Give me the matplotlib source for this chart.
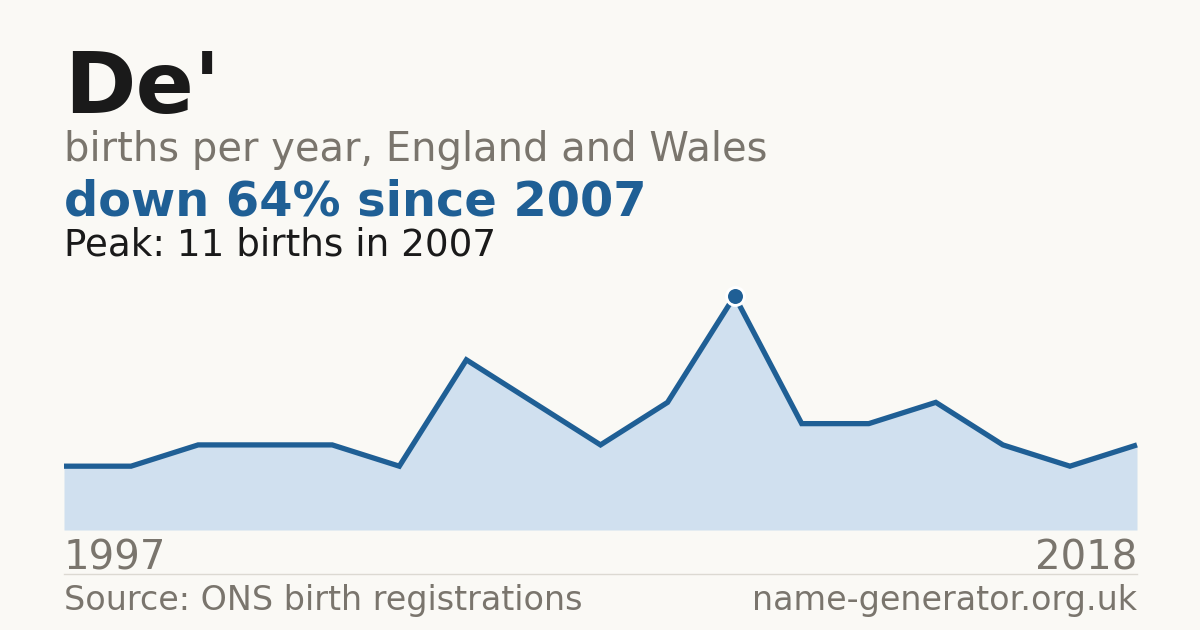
import matplotlib
matplotlib.use('Agg')
import matplotlib.pyplot as plt
import numpy as np

# Chart data (births per year)
births = [3, 3, 4, 4, 4, 3, 8, 6, 4, 6, 11, 5, 5, 6, 4, 3, 4]
first_year = '1997'
last_year = '2018'
peak_births = 11
peak_year = 2007
peak_index = births.index(peak_births)

title = "De'"
subtitle = 'births per year, England and Wales'
headline = 'down 64% since 2007'
peak_text = 'Peak: 11 births in 2007'
source = 'Source: ONS birth registrations'
site = 'name-generator.org.uk'

BG = '#faf9f5'
BLUE = '#1f5f95'
FILL = '#d0e0ef'
GREY = '#7a756d'
DARK = '#1a1a1a'

W, H = 1200, 630
fig = plt.figure(figsize=(12, 6.3), dpi=100, facecolor=BG)

def fx(px):
    return px / W

def fy(py):
    return 1 - py / H

# Header text
fig.text(fx(64), fy(113), title, fontsize=62, fontweight='bold', color=DARK, va='baseline')
fig.text(fx(64), fy(161), subtitle, fontsize=28.8, color=GREY, va='baseline')
fig.text(fx(64), fy(215), headline, fontsize=34.5, fontweight='bold', color=BLUE, va='baseline')
fig.text(fx(64), fy(255), peak_text, fontsize=26.8, color=DARK, va='baseline')

# Area chart
ax = fig.add_axes([fx(64), fy(530), fx(1137) - fx(64), fy(296) - fy(530)])
ax.set_facecolor('none')
x = np.arange(len(births))
ax.fill_between(x, births, 0, color=FILL, lw=0)
ax.plot(x, births, color=BLUE, lw=3.8, solid_joinstyle='miter',
        solid_capstyle='butt', clip_on=False)
ax.plot(x[peak_index], births[peak_index], 'o', ms=12.9, color=BLUE,
        mec='white', mew=2.1, clip_on=False, zorder=5)
ax.set_xlim(0, len(births) - 1)
ax.set_ylim(0, peak_births)
ax.axis('off')

# Axis labels
fig.text(fx(64), fy(570), first_year, fontsize=29, color=GREY, va='baseline')
fig.text(fx(1137), fy(570), last_year, fontsize=29, color=GREY, va='baseline', ha='right')

# Separator and footer
fig.add_artist(plt.Line2D([fx(64), fx(1137)], [fy(574), fy(574)], color='#dcd9d2', lw=1))
fig.text(fx(64), fy(610), source, fontsize=24, color=GREY, va='baseline')
fig.text(fx(1137), fy(610), site, fontsize=24, color=GREY, va='baseline', ha='right')

fig.savefig('out.png', dpi=100, facecolor=BG)
